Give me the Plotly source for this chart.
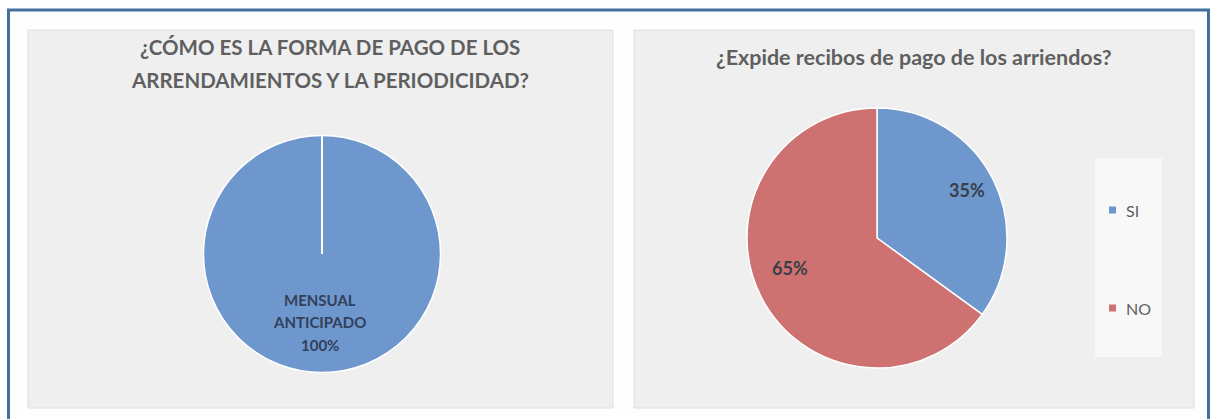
import plotly.graph_objects as go

W, H = 1212, 419

# ---- data ----
left_title_lines = ["¿CÓMO ES LA FORMA DE PAGO DE LOS", "ARRENDAMIENTOS Y LA PERIODICIDAD?"]
left_labels = ["MENSUAL ANTICIPADO"]
left_values = [100]

right_title = "¿Expide recibos de pago de los arriendos?"
right_labels = ["SI", "NO"]
right_values = [35, 65]

BLUE = "#6e97cd"
RED = "#cd7270"
TXT = "#5f5f5f"

def px(x):
    return x / W

def py(y):
    return 1 - y / H

# pie geometry (pixels)
Lcx, Lcy, Lr = 322, 254, 118.5
Rcx, Rcy, Rr = 877, 238, 130

fig = go.Figure()

fig.add_trace(go.Pie(
    labels=left_labels, values=left_values, sort=False, direction="clockwise",
    marker=dict(colors=[BLUE], line=dict(color="white", width=1.5)),
    textinfo="none", showlegend=False, hoverinfo="label+percent",
    domain=dict(x=[px(Lcx - Lr), px(Lcx + Lr)], y=[py(Lcy + Lr), py(Lcy - Lr)]),
))

fig.add_trace(go.Pie(
    labels=right_labels, values=right_values, sort=False, direction="clockwise",
    rotation=0,
    marker=dict(colors=[BLUE, RED], line=dict(color="white", width=1.5)),
    textinfo="none", showlegend=False, hoverinfo="label+percent",
    domain=dict(x=[px(Rcx - Rr), px(Rcx + Rr)], y=[py(Rcy + Rr), py(Rcy - Rr)]),
))

shapes = []
# outer frame
shapes.append(dict(type="rect", xref="paper", yref="paper",
                   x0=px(8.5), x1=px(1208.5), y0=py(440), y1=py(10),
                   line=dict(color="#41719c", width=3), fillcolor="#fefefe", layer="below"))
# panels
for x0, x1 in [(28, 613), (634, 1194)]:
    shapes.append(dict(type="rect", xref="paper", yref="paper",
                       x0=px(x0), x1=px(x1), y0=py(408), y1=py(30),
                       line=dict(color="#dedede", width=1), fillcolor="#efefef", layer="below"))
# white divider at the top of the 100% pie
shapes.append(dict(type="line", xref="paper", yref="paper",
                   x0=px(Lcx), x1=px(Lcx), y0=py(Lcy), y1=py(Lcy - Lr),
                   line=dict(color="white", width=2)))
# legend box
shapes.append(dict(type="rect", xref="paper", yref="paper",
                   x0=px(1095), x1=px(1162), y0=py(357), y1=py(158),
                   line=dict(width=0), fillcolor="#f8f8f8", layer="below"))

annotations = []
for line, ly in zip(left_title_lines, [47, 80]):
    annotations.append(dict(text=f"<b>{line}</b>", x=px(330), y=py(ly), xref="paper", yref="paper",
                            showarrow=False, font=dict(family="Lato", size=20.5, color=TXT),
                            xanchor="center", yanchor="middle"))
annotations.append(dict(text=f"<b>{right_title}</b>", x=px(914), y=py(57), xref="paper", yref="paper",
                        showarrow=False, font=dict(family="Lato", size=21.5, color=TXT),
                        xanchor="center", yanchor="middle"))
words = left_labels[0].split(" ") + [f"{left_values[0]}%"]
for wtxt, ly in zip(words, [300, 322, 345]):
    annotations.append(dict(text=f"<b>{wtxt}</b>", x=px(Lcx - 2), y=py(ly), xref="paper", yref="paper",
                            showarrow=False, font=dict(family="Lato", size=15, color="#33405a"),
                            xanchor="center", yanchor="middle"))

# percentage labels of the right pie
total = sum(right_values)
for v, (lx, ly) in zip(right_values, [(967, 190), (790, 268)]):
    annotations.append(dict(text=f"<b>{round(100 * v / total)}%</b>", x=px(lx), y=py(ly),
                            xref="paper", yref="paper", showarrow=False,
                            font=dict(family="Lato", size=18, color="#3a3f4a"),
                            xanchor="center", yanchor="middle"))

# manual legend
leg_y = [210, 308]
colors = [BLUE, RED]
for lab, ly, c in zip(right_labels, leg_y, colors):
    shapes.append(dict(type="rect", xref="paper", yref="paper",
                       x0=px(1109), x1=px(1116), y0=py(ly + 3.5), y1=py(ly - 3.5),
                       line=dict(width=0), fillcolor=c))
    annotations.append(dict(text=lab, x=px(1124), y=py(ly), xref="paper", yref="paper",
                            showarrow=False, font=dict(family="Lato", size=16, color=TXT),
                            xanchor="left", yanchor="middle"))

fig.update_layout(
    width=W, height=H, margin=dict(l=0, r=0, t=0, b=0),
    paper_bgcolor="white", plot_bgcolor="white",
    shapes=shapes, annotations=annotations, showlegend=False,
)

fig.write_html("out.html")
